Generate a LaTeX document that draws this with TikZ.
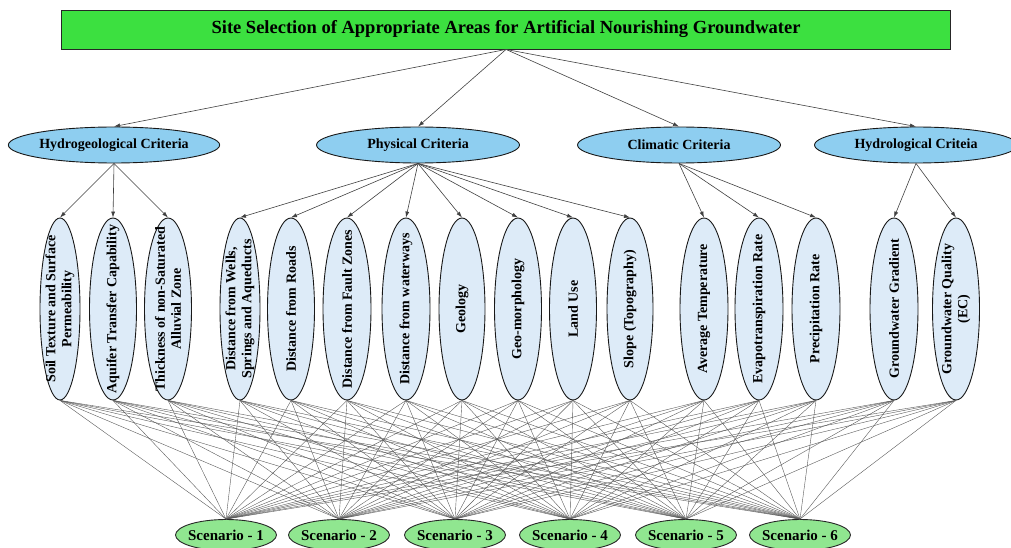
\documentclass[tikz,border=0pt]{standalone}
\usepackage{fontspec}
\setmainfont{Liberation Serif}
\usetikzlibrary{shapes.geometric,arrows.meta}
\definecolor{titlegreen}{RGB}{60,224,64}
\definecolor{critblue}{RGB}{142,206,240}
\definecolor{subblue}{RGB}{221,235,248}
\definecolor{scengreen}{RGB}{144,230,144}
\begin{document}
\begin{tikzpicture}[x=1pt,y=-1pt,
 titlebox/.style={draw=black!85,line width=0.9pt,fill=titlegreen,minimum width=889pt,minimum height=39pt,inner sep=0pt,font=\fontsize{18.5}{21}\selectfont\bfseries},
 crit/.style={ellipse,draw=black!90,line width=0.9pt,fill=critblue,minimum width=203pt,minimum height=36pt,inner sep=0pt,font=\fontsize{14}{16}\selectfont\bfseries},
 sub/.style={ellipse,draw=black!90,line width=0.9pt,fill=subblue,minimum height=182pt,inner sep=0pt},
 sublabel/.style={rotate=90,align=center,font=\fontsize{14}{16}\selectfont\bfseries,inner sep=0pt},
 scen/.style={ellipse,draw=black!85,line width=0.9pt,fill=scengreen,minimum width=101pt,minimum height=31pt,inner sep=0pt},
 scenlabel/.style={font=\fontsize{15}{18}\selectfont\bfseries,inner sep=0pt},
 arr/.style={-{Latex[length=6pt,width=4pt]},line width=0.6pt,draw=black!75},
 web/.style={line width=0.4pt,draw=black!65}]
\useasboundingbox (0,0) rectangle (1011,548);

\node[titlebox] (title) at (506,29.5) {Site Selection of Appropriate Areas for Artificial Nourishing Groundwater};

\node[crit] (hydrogeo) at (114,145) {Hydrogeological Criteria};
\node[crit] (physical) at (418,145) {Physical Criteria};
\node[crit] (climatic) at (679,145) {Climatic Criteria};
\node[crit] (hydrol) at (916,145) {Hydrological Criteia};

\foreach \n/\x/\w/\t in {
  soil/60/40/{Soil Texture and Surface\\Permeability},
  aquifer/113/47/{Aquifer Transfer Capability},
  thick/168/47/{Thickness of non-Saturated\\Alluvial Zone},
  wells/240/40/{Distance from Wells,\\Springs and Aqueducts},
  roads/291/47/{Distance from Roads},
  fault/347/48/{Distance from Fault Zones},
  water/406/48/{Distance from waterways},
  geology/462/46/{Geology},
  geomorph/518/47/{Geo-morphology},
  landuse/573/47/{Land Use},
  slope/630/46/{Slope (Topography)},
  avgtemp/704/48/{Average Temperature},
  evapo/759/48/{Evapotranspiration Rate},
  precip/816/48/{Precipitation Rate},
  gwgrad/894/48/{Groundwater Gradient},
  gwqual/956/47/{Groundwater Quality\\(EC)}}{
  \node[sub,minimum width=\w pt] (\n) at (\x,309) {};
  \node[sublabel] (\n-label) at (\x,309) {\t};
}

\foreach \n/\x in {s1/226,s2/339,s3/455,s4/570,s5/686,s6/800}{
  \node[scen] (\n) at (\x,535) {};
}
\node[scenlabel] (s1-label) at (s1) {Scenario - 1};
\node[scenlabel] (s2-label) at (s2) {Scenario - 2};
\node[scenlabel] (s3-label) at (s3) {Scenario - 3};
\node[scenlabel] (s4-label) at (s4) {Scenario - 4};
\node[scenlabel] (s5-label) at (s5) {Scenario - 5};
\node[scenlabel] (s6-label) at (s6) {Scenario - 6};

\foreach \c in {hydrogeo,physical,climatic,hydrol}{
  \draw[arr] (title.south) -- (\c.north);
}
\foreach \c in {soil,aquifer,thick}{\draw[arr] (hydrogeo.south) -- (\c.north);}
\foreach \c in {wells,roads,fault,water,geology,geomorph,landuse,slope}{\draw[arr] (physical.south) -- (\c.north);}
\foreach \c in {avgtemp,evapo,precip}{\draw[arr] (climatic.south) -- (\c.north);}
\foreach \c in {gwgrad,gwqual}{\draw[arr] (hydrol.south) -- (\c.north);}

\foreach \s in {s1,s2,s3,s4,s5,s6}{
  \foreach \c in {soil,aquifer,thick,wells,roads,fault,water,geology,geomorph,landuse,slope,avgtemp,evapo,precip,gwgrad,gwqual}{
    \draw[web] (\c.south) -- (\s.north);
  }
}
\end{tikzpicture}
\end{document}
